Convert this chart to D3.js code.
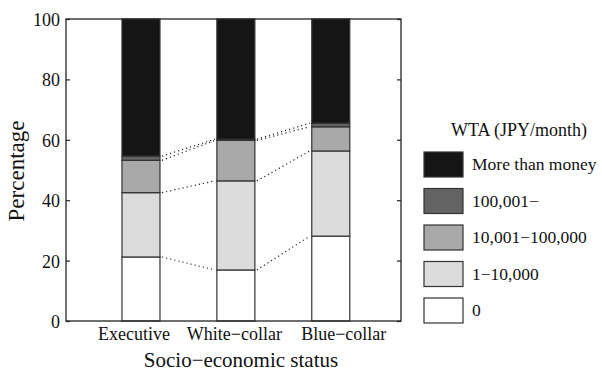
<!DOCTYPE html>
<html>
<head>
<meta charset="utf-8">
<script src="https://cdn.jsdelivr.net/npm/d3@7"></script>
<style>
  body { margin: 0; background: #fff; }
</style>
</head>
<body>
<svg id="chart" width="602" height="374"></svg>
<script>
const groups = ["Executive", "White\u2212collar", "Blue\u2212collar"];
const categories = ["0", "1\u221210,000", "10,001\u2212100,000", "100,001\u2212", "More than money"];
// percentages per group, bottom to top
const zeroPct = [21.2, 16.9, 28.1];
const lowPct = [21.3, 29.5, 28.2];
const midPct = [10.7, 13.4, 8.0];
const highPct = [1.4, 0.4, 1.2];
const morePct = [45.4, 39.8, 34.5];
const yTicks = [0, 20, 40, 60, 80, 100];
const colors = ["#ffffff", "#dcdcdc", "#a9a9a9", "#636363", "#151515"];

const FONT = "Liberation Serif";
const svg = d3.select("#chart");
const plotLeft = 66, plotRight = 401, plotTop = 19, plotBottom = 321;

const table = groups.map((g, i) => ({
  group: g,
  "0": zeroPct[i],
  "1\u221210,000": lowPct[i],
  "10,001\u2212100,000": midPct[i],
  "100,001\u2212": highPct[i],
  "More than money": morePct[i],
}));
const stacked = d3.stack().keys(categories)(table);

const x = d3.scaleLinear().domain([0.21, 3.74]).range([plotLeft, plotRight]);
const y = d3.scaleLinear().domain([0, 100]).range([plotBottom, plotTop]);
const barW = 38;
const cx = (i) => x(i + 1);

// dotted connectors between bars
stacked.slice(0, 4).forEach((layer) => {
  for (let i = 0; i < groups.length - 1; i++) {
    svg.append("line")
      .attr("x1", cx(i) + barW / 2 + 2)
      .attr("y1", y(layer[i][1]))
      .attr("x2", cx(i + 1) - barW / 2 - 2)
      .attr("y2", y(layer[i + 1][1]))
      .attr("stroke", "#222")
      .attr("stroke-width", 1.2)
      .attr("stroke-dasharray", "1.2,3");
  }
});

// bars
stacked.forEach((layer, k) => {
  svg.append("g").selectAll("rect")
    .data(layer)
    .join("rect")
    .attr("x", (d, i) => cx(i) - barW / 2)
    .attr("y", (d) => y(d[1]))
    .attr("width", barW)
    .attr("height", (d) => y(d[0]) - y(d[1]))
    .attr("fill", colors[k])
    .attr("stroke", "#333")
    .attr("stroke-width", 1.2);
});

// frame with inward ticks
svg.append("rect")
  .attr("x", plotLeft).attr("y", plotTop)
  .attr("width", plotRight - plotLeft).attr("height", plotBottom - plotTop)
  .attr("fill", "none").attr("stroke", "#222").attr("stroke-width", 1.3);

svg.append("g")
  .attr("transform", `translate(${plotLeft},0)`)
  .call(d3.axisLeft(y).tickValues(yTicks).tickSize(-4).tickPadding(6))
  .call((g) => g.select(".domain").remove())
  .call((g) => g.attr("font-size", 18).attr("font-family", FONT))
  .call((g) => g.selectAll("text").attr("fill", "#111").attr("dy", "0.36em"));

svg.append("g")
  .attr("transform", `translate(${plotRight},0)`)
  .call(d3.axisRight(y).tickValues(yTicks).tickSize(-4).tickFormat(""))
  .call((g) => g.select(".domain").remove());

svg.selectAll(".tick line").attr("stroke", "#222").attr("stroke-width", 1.2);

// x labels (slightly spread from bar centres, as in the original)
const labelShift = [-7, -1.5, 13];
svg.append("g").selectAll("text")
  .data(groups)
  .join("text")
  .attr("x", (d, i) => cx(i) + labelShift[i])
  .attr("y", 340)
  .attr("text-anchor", "middle")
  .attr("font-family", FONT)
  .attr("font-size", 18)
  .attr("fill", "#111")
  .text((d) => d);

svg.append("text")
  .attr("x", 241)
  .attr("y", 367)
  .attr("text-anchor", "middle")
  .attr("font-family", FONT)
  .attr("font-size", 21)
  .attr("fill", "#111")
  .text("Socio\u2212economic status");

svg.append("text")
  .attr("transform", `translate(24,171) rotate(-90)`)
  .attr("text-anchor", "middle")
  .attr("font-family", FONT)
  .attr("font-size", 23)
  .attr("fill", "#111")
  .text("Percentage");

// legend
const legend = svg.append("g");
legend.append("text")
  .attr("x", 519).attr("y", 136)
  .attr("text-anchor", "middle")
  .attr("font-family", FONT)
  .attr("font-size", 18)
  .attr("fill", "#111")
  .text("WTA (JPY/month)");

const legendOrder = categories.slice().reverse();
const legendRows = legend.selectAll("g")
  .data(legendOrder)
  .join("g")
  .attr("transform", (d, i) => `translate(424,${152 + i * 36.5})`);
legendRows.append("rect")
  .attr("width", 39).attr("height", 25)
  .attr("fill", (d) => colors[categories.indexOf(d)])
  .attr("stroke", "#333").attr("stroke-width", 1.2);
legendRows.append("text")
  .attr("x", 48).attr("y", 18)
  .attr("font-family", FONT)
  .attr("font-size", 17.5)
  .attr("fill", "#111")
  .text((d) => d);
</script>
</body>
</html>
